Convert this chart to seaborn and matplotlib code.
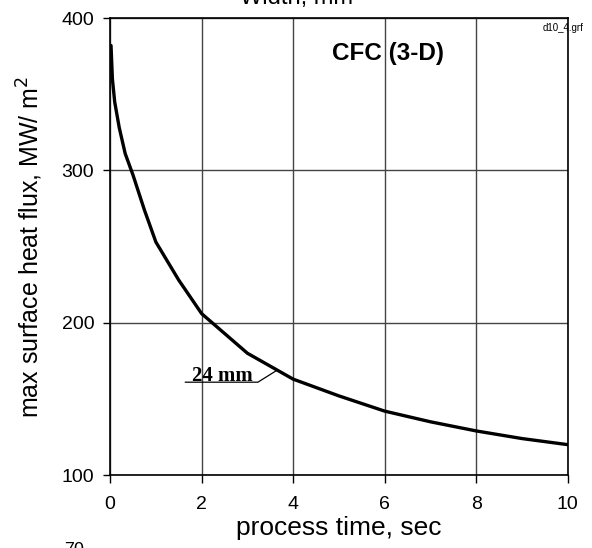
import matplotlib
matplotlib.use("Agg")
import matplotlib.pyplot as plt
import seaborn as sns
import pandas as pd

time_sec = [0.02, 0.05, 0.1, 0.2, 0.33, 0.5, 0.75, 1.0, 1.5, 2.0, 3.0, 4.0, 5.0, 6.0, 7.0, 8.0, 9.0, 10.0]
heat_flux = [382, 360, 345, 328, 311, 297, 274, 253, 228, 206, 180, 163, 152, 142, 135, 129, 124, 120]
x_ticks = [0, 2, 4, 6, 8, 10]
y_ticks = [100, 200, 300, 400]

sns.set_theme(style="white")
plt.rcParams['font.family'] = ['Liberation Sans', 'DejaVu Sans']
plt.rcParams['text.color'] = 'black'
plt.rcParams['axes.labelcolor'] = 'black'

fig = plt.figure(figsize=(5.92, 5.48), dpi=100)
ax = fig.add_axes([0.186, 0.133, 0.773, 0.834])

df = pd.DataFrame({"t": time_sec, "q": heat_flux})
sns.lineplot(data=df, x="t", y="q", ax=ax, color="black", linewidth=2.4)

ax.set_xlim(0, 10)
ax.set_ylim(100, 400)
ax.set_xticks(x_ticks)
ax.set_yticks(y_ticks)
ax.grid(True, color="#444444", linewidth=1.0)
for s in ax.spines.values():
    s.set_color("black")
    s.set_linewidth(1.2)
ax.tick_params(axis="both", direction="out", width=1, colors="black",
               labelsize=14, bottom=True, left=True)
ax.tick_params(axis="y", length=5, pad=6.5)
ax.tick_params(axis="x", length=6, pad=9)
ax.set_xlabel("process time, sec", fontsize=19, labelpad=2)
ax.set_ylabel("max surface heat flux, MW/ m$^2$", fontsize=18, labelpad=12)

ax.text(6.07, 376.5, "CFC (3-D)", fontsize=17.5, fontweight="bold", ha="center", va="center")
ax.plot([1.64, 3.23, 3.65], [161, 161, 168.9], color="black", linewidth=0.9)
ax.text(1.79, 162.0, "24 mm", fontsize=15, fontweight="bold", family="Liberation Serif",
        ha="left", va="baseline")
fig.text(0.985, 0.948, "d10_4.grf", fontsize=7, ha="right", va="center")
fig.text(0.5, 1.004, "Width, mm", fontsize=17, ha="center", va="center")
fig.text(0.125, -0.005, "70", fontsize=13, ha="center", va="center")

fig.savefig("out.png", dpi=100)
